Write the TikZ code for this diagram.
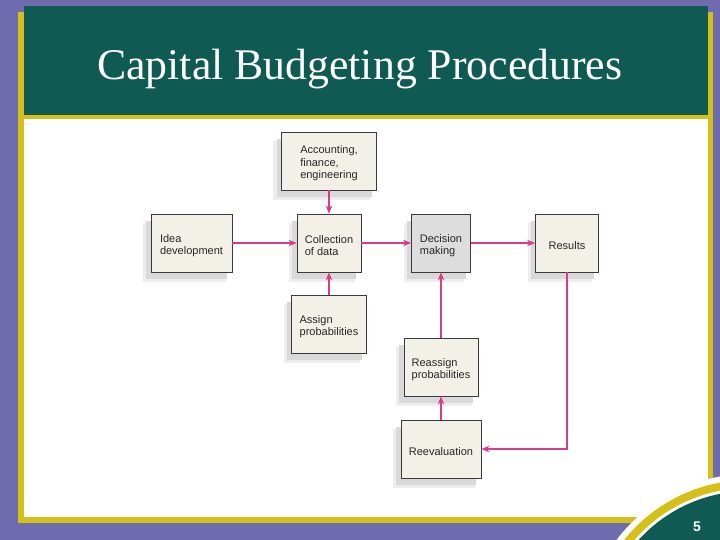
\documentclass[tikz,border=0pt]{standalone}
\usepackage{fontspec}
\setmainfont{Liberation Serif}
\setsansfont{Liberation Sans}
\usetikzlibrary{arrows.meta,shadows,calc}
\definecolor{bgpurple}{HTML}{6E6CAF}
\definecolor{hdrgreen}{HTML}{0F5A52}
\definecolor{frameyellow}{HTML}{D4C018}
\definecolor{boxfill}{HTML}{F3F1E7}
\definecolor{decfill}{HTML}{DCDDDC}
\definecolor{boxline}{HTML}{3A3A3A}
\definecolor{arrowpink}{HTML}{DA3A8A}
\newcommand{\fstrut}{\rule{0pt}{12.8pt}}
\begin{document}
\begin{tikzpicture}[x=1pt,y=-1pt,
  flowbox/.style={draw=boxline, line width=0.8pt, fill=boxfill, inner sep=0pt,
    align=left, text=black!85, font=\sffamily\fontsize{11}{12.5}\selectfont,
    general shadow={fill=black!7, shadow xshift=-7pt, shadow yshift=-9pt, shadow scale=1.02},
    general shadow={fill=black!15, shadow xshift=-5pt, shadow yshift=-7pt}},
  flowarrow/.style={draw=arrowpink, color=arrowpink, line width=1.3pt, -{Stealth[length=8pt,width=6.5pt]}}]
\useasboundingbox (0,0) rectangle (720,540);
% background and frame
\fill[bgpurple] (0,0) rectangle (720,540);
\fill[frameyellow] (18,12) rectangle (713,523);
\fill[white] (24,119) rectangle (708,517);
\fill[hdrgreen] (24,6) rectangle (708,115);
% bottom-right disc
\begin{scope}
\clip (0,0) rectangle (720,540);
\fill[white] (749,640) circle[radius=166];
\fill[frameyellow] (749,640) circle[radius=160];
\fill[white] (749,640) circle[radius=152];
\fill[hdrgreen] (749,640) circle[radius=149];
\end{scope}
\node[text=white, font=\sffamily\bfseries\fontsize{14}{14}\selectfont] (pagenum) at (697,527) {5};
% title
\node[anchor=base west, inner sep=0pt, text=white] (title) at (97,80)
  {\resizebox{525pt}{!}{\fontsize{44}{44}\selectfont Capital Budgeting Procedures}};
% boxes
\node[flowbox, minimum width=95pt, minimum height=58pt] (acc) at (329,161) {\fstrut Accounting,\\finance,\\engineering};
\node[flowbox, minimum width=81pt, minimum height=58pt] (idea) at (191.5,243) {\fstrut Idea\\development};
\node[flowbox, minimum width=64pt, minimum height=58pt] (coll) at (329,243) {\fstrut Collection\\of data};
\node[flowbox, fill=decfill, minimum width=59pt, minimum height=58pt] (dec) at (441,243) {\fstrut Decision\\making};
\node[flowbox, minimum width=63pt, minimum height=58pt] (res) at (567,243) {\fstrut Results};
\node[flowbox, minimum width=75pt, minimum height=58pt] (assign) at (329,324) {\fstrut Assign\\probabilities};
\node[flowbox, minimum width=74pt, minimum height=58pt] (reassign) at (441,367) {\fstrut Reassign\\probabilities};
\node[flowbox, minimum width=80pt, minimum height=58pt] (reeval) at (441,449) {\fstrut Reevaluation};
% connectors
\draw[flowarrow] (acc.south) -- (coll.north);
\draw[flowarrow] (idea.east) -- (coll.west);
\draw[flowarrow] (coll.east) -- (dec.west);
\draw[flowarrow] (dec.east) -- (res.west);
\draw[flowarrow] (assign.north) -- (coll.south);
\draw[flowarrow] (reassign.north) -- (dec.south);
\draw[flowarrow] (reeval.north) -- (reassign.south);
\draw[flowarrow] (res.south) |- (reeval.east);
\end{tikzpicture}
\end{document}
